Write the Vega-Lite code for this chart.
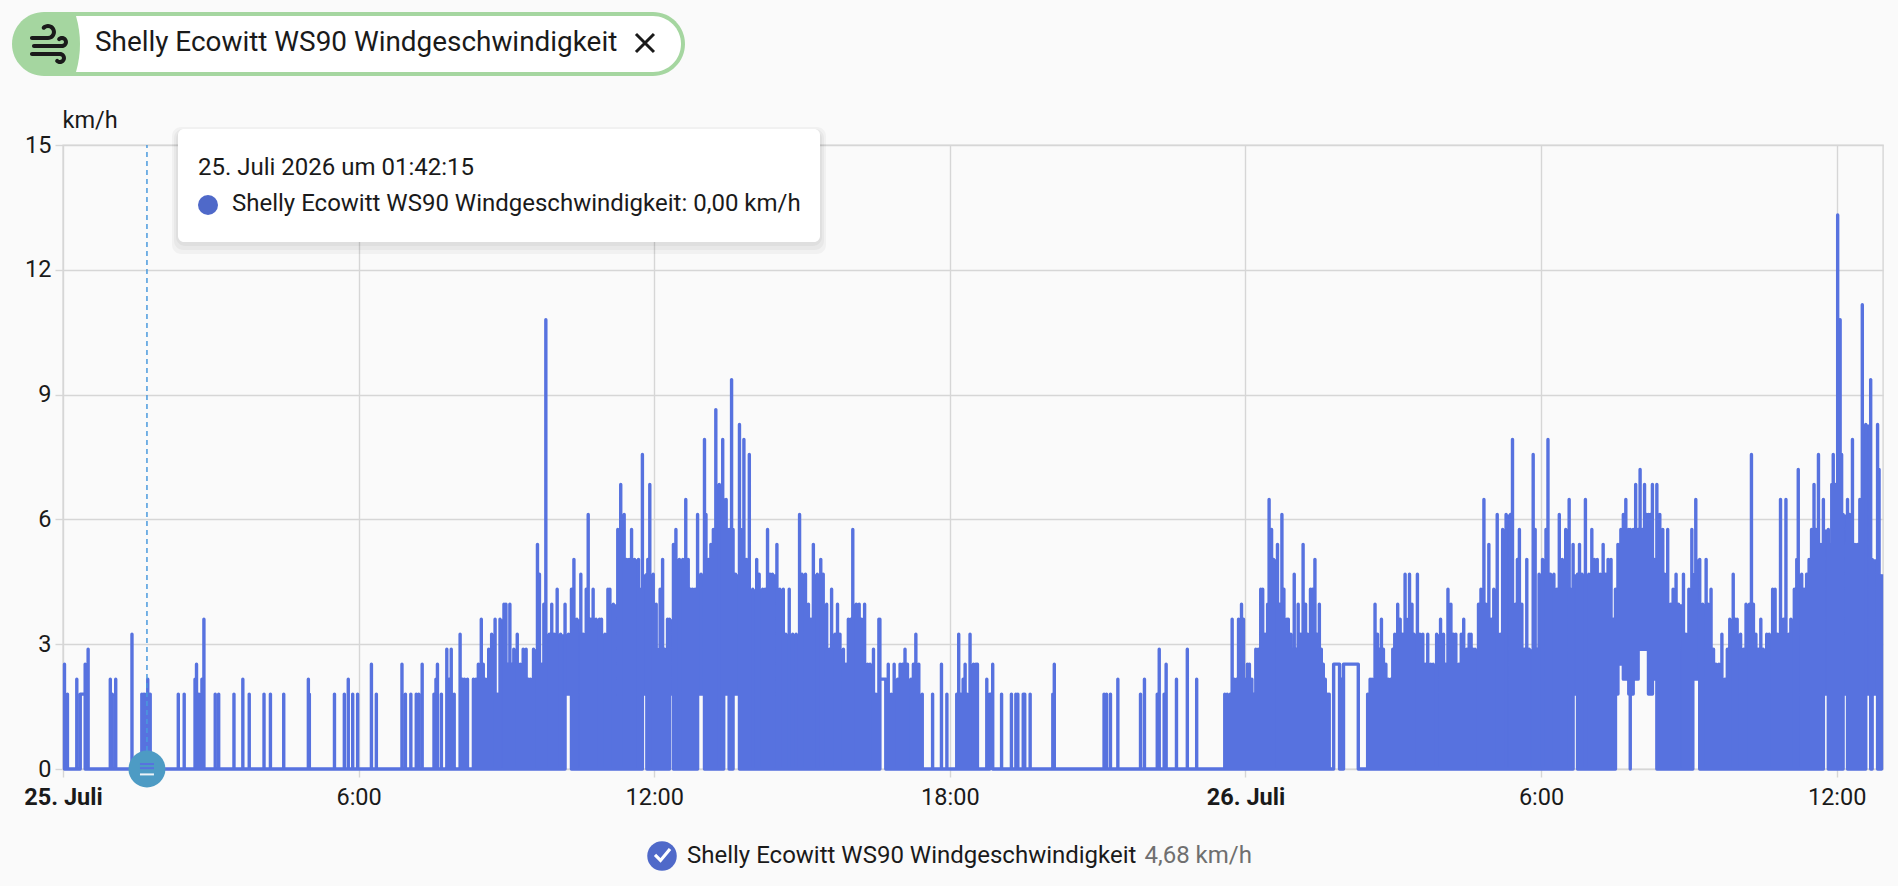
{"$schema":"https://vega.github.io/schema/vega-lite/v6.json","width":1820,"height":624,"autosize":{"type":"none"},"padding":{"left":63,"top":145,"right":15,"bottom":117},"background":"#fafafa","view":{"stroke":"#d6d6d6","strokeWidth":1.4},"config":{"font":"Roboto","text":{"font":"Roboto"}},
"datasets":{"wind":[{"h":0.03,"lo":0,"hi":2.52},{"h":0.09,"lo":0,"hi":1.8},{"h":0.28,"lo":0,"hi":2.16},{"h":0.35,"lo":0,"hi":1.8},{"h":0.45,"lo":1.8,"hi":2.52},{"h":0.51,"lo":0,"hi":2.88},{"h":0.96,"lo":0,"hi":2.16},{"h":1.0,"lo":0,"hi":1.8},{"h":1.07,"lo":0,"hi":2.16},{"h":1.4,"lo":0,"hi":3.24},{"h":1.6,"lo":0,"hi":1.8},{"h":1.64,"lo":0,"hi":1.8},{"h":1.66,"lo":0,"hi":1.8},{"h":1.72,"lo":0,"hi":2.16},{"h":1.77,"lo":0,"hi":1.8},{"h":2.34,"lo":0,"hi":1.8},{"h":2.46,"lo":0,"hi":1.8},{"h":2.68,"lo":0,"hi":2.16},{"h":2.71,"lo":0,"hi":2.52},{"h":2.76,"lo":0,"hi":1.8},{"h":2.82,"lo":0,"hi":2.16},{"h":2.86,"lo":0,"hi":3.6},{"h":3.09,"lo":0,"hi":1.8},{"h":3.16,"lo":0,"hi":1.8},{"h":3.47,"lo":0,"hi":1.8},{"h":3.65,"lo":0,"hi":2.16},{"h":3.78,"lo":0,"hi":1.8},{"h":4.08,"lo":0,"hi":1.8},{"h":4.21,"lo":0,"hi":1.8},{"h":4.48,"lo":0,"hi":1.8},{"h":4.98,"lo":0,"hi":2.16},{"h":5.0,"lo":0,"hi":1.8},{"h":5.51,"lo":0,"hi":1.8},{"h":5.71,"lo":0,"hi":1.8},{"h":5.79,"lo":0,"hi":2.16},{"h":5.88,"lo":0,"hi":1.8},{"h":5.98,"lo":0,"hi":1.8},{"h":6.26,"lo":0,"hi":2.52},{"h":6.36,"lo":0,"hi":1.8},{"h":6.88,"lo":0,"hi":2.52},{"h":6.95,"lo":0,"hi":1.8},{"h":7.06,"lo":0,"hi":1.8},{"h":7.17,"lo":0,"hi":1.8},{"h":7.22,"lo":0,"hi":1.8},{"h":7.29,"lo":0,"hi":2.52},{"h":7.53,"lo":0,"hi":1.8},{"h":7.57,"lo":0,"hi":2.16},{"h":7.6,"lo":0,"hi":2.52},{"h":7.68,"lo":0,"hi":1.8},{"h":7.79,"lo":0,"hi":2.88},{"h":7.84,"lo":0,"hi":2.16},{"h":7.88,"lo":0,"hi":2.88},{"h":7.94,"lo":0,"hi":1.8},{"h":8.06,"lo":0,"hi":3.24},{"h":8.11,"lo":0,"hi":2.16},{"h":8.15,"lo":0,"hi":2.16},{"h":8.21,"lo":0,"hi":2.16},{"h":8.33,"lo":0,"hi":2.16},{"h":8.38,"lo":0,"hi":2.16},{"h":8.43,"lo":0,"hi":2.52},{"h":8.49,"lo":0,"hi":3.6},{"h":8.53,"lo":0,"hi":2.52},{"h":8.58,"lo":0,"hi":2.16},{"h":8.64,"lo":0,"hi":2.88},{"h":8.7,"lo":0,"hi":3.24},{"h":8.77,"lo":0,"hi":3.6},{"h":8.82,"lo":0,"hi":1.8},{"h":8.87,"lo":0,"hi":3.6},{"h":8.95,"lo":0,"hi":3.96},{"h":8.99,"lo":0,"hi":3.96},{"h":9.03,"lo":0,"hi":2.52},{"h":9.07,"lo":0,"hi":3.96},{"h":9.11,"lo":0,"hi":2.52},{"h":9.15,"lo":0,"hi":2.88},{"h":9.22,"lo":0,"hi":3.24},{"h":9.28,"lo":0,"hi":2.52},{"h":9.34,"lo":0,"hi":2.88},{"h":9.4,"lo":0,"hi":2.88},{"h":9.45,"lo":0,"hi":2.16},{"h":9.49,"lo":0,"hi":2.16},{"h":9.55,"lo":0,"hi":2.88},{"h":9.63,"lo":0,"hi":5.4},{"h":9.67,"lo":0,"hi":4.68},{"h":9.71,"lo":0,"hi":2.52},{"h":9.76,"lo":0,"hi":3.96},{"h":9.8,"lo":0,"hi":10.8},{"h":9.87,"lo":0,"hi":3.24},{"h":9.92,"lo":0,"hi":3.96},{"h":9.97,"lo":0,"hi":3.24},{"h":10.03,"lo":0,"hi":4.32},{"h":10.1,"lo":0,"hi":3.24},{"h":10.19,"lo":0,"hi":3.96},{"h":10.26,"lo":1.8,"hi":3.24},{"h":10.32,"lo":1.8,"hi":4.32},{"h":10.37,"lo":0,"hi":5.04},{"h":10.43,"lo":0,"hi":3.6},{"h":10.51,"lo":0,"hi":4.68},{"h":10.56,"lo":0,"hi":3.24},{"h":10.62,"lo":0,"hi":4.32},{"h":10.66,"lo":0,"hi":6.12},{"h":10.71,"lo":0,"hi":3.6},{"h":10.76,"lo":0,"hi":4.32},{"h":10.82,"lo":0,"hi":3.6},{"h":10.89,"lo":0,"hi":3.6},{"h":10.93,"lo":0,"hi":3.6},{"h":11.0,"lo":0,"hi":3.24},{"h":11.06,"lo":0,"hi":4.32},{"h":11.1,"lo":0,"hi":4.32},{"h":11.17,"lo":0,"hi":3.96},{"h":11.26,"lo":0,"hi":5.76},{"h":11.32,"lo":0,"hi":6.84},{"h":11.39,"lo":0,"hi":6.12},{"h":11.44,"lo":0,"hi":5.04},{"h":11.49,"lo":0,"hi":5.04},{"h":11.54,"lo":0,"hi":5.76},{"h":11.6,"lo":0,"hi":5.04},{"h":11.68,"lo":0,"hi":5.04},{"h":11.73,"lo":0,"hi":4.32},{"h":11.76,"lo":0,"hi":7.56},{"h":11.85,"lo":1.8,"hi":4.68},{"h":11.87,"lo":0,"hi":5.04},{"h":11.91,"lo":0,"hi":6.84},{"h":11.98,"lo":0,"hi":4.68},{"h":12.04,"lo":0,"hi":3.96},{"h":12.06,"lo":0,"hi":2.88},{"h":12.12,"lo":0,"hi":4.32},{"h":12.17,"lo":0,"hi":5.04},{"h":12.21,"lo":0,"hi":2.88},{"h":12.27,"lo":0,"hi":3.6},{"h":12.31,"lo":0,"hi":3.6},{"h":12.39,"lo":1.8,"hi":5.4},{"h":12.44,"lo":0,"hi":5.76},{"h":12.51,"lo":0,"hi":5.04},{"h":12.58,"lo":0,"hi":5.04},{"h":12.64,"lo":0,"hi":6.48},{"h":12.69,"lo":0,"hi":5.04},{"h":12.74,"lo":0,"hi":4.32},{"h":12.78,"lo":0,"hi":4.32},{"h":12.83,"lo":0,"hi":4.32},{"h":12.88,"lo":0,"hi":6.12},{"h":12.95,"lo":1.8,"hi":4.68},{"h":13.02,"lo":1.8,"hi":7.92},{"h":13.05,"lo":0,"hi":6.12},{"h":13.1,"lo":0,"hi":5.04},{"h":13.15,"lo":0,"hi":5.4},{"h":13.2,"lo":0,"hi":5.76},{"h":13.25,"lo":0,"hi":8.64},{"h":13.32,"lo":0,"hi":6.84},{"h":13.39,"lo":0,"hi":7.92},{"h":13.41,"lo":0,"hi":6.48},{"h":13.46,"lo":1.8,"hi":6.48},{"h":13.52,"lo":1.8,"hi":5.76},{"h":13.57,"lo":0,"hi":9.36},{"h":13.6,"lo":0,"hi":5.76},{"h":13.65,"lo":1.8,"hi":4.68},{"h":13.73,"lo":1.8,"hi":8.28},{"h":13.76,"lo":0,"hi":5.76},{"h":13.82,"lo":0,"hi":7.92},{"h":13.87,"lo":0,"hi":5.04},{"h":13.93,"lo":0,"hi":7.56},{"h":14.0,"lo":0,"hi":4.32},{"h":14.08,"lo":0,"hi":5.04},{"h":14.13,"lo":0,"hi":4.68},{"h":14.2,"lo":0,"hi":4.32},{"h":14.25,"lo":0,"hi":4.32},{"h":14.3,"lo":0,"hi":5.76},{"h":14.35,"lo":0,"hi":4.68},{"h":14.4,"lo":0,"hi":4.68},{"h":14.49,"lo":0,"hi":5.4},{"h":14.55,"lo":0,"hi":4.32},{"h":14.62,"lo":0,"hi":4.32},{"h":14.67,"lo":0,"hi":3.24},{"h":14.74,"lo":0,"hi":4.32},{"h":14.81,"lo":0,"hi":3.24},{"h":14.88,"lo":0,"hi":3.24},{"h":14.95,"lo":0,"hi":6.12},{"h":15.0,"lo":0,"hi":4.68},{"h":15.07,"lo":0,"hi":4.68},{"h":15.13,"lo":0,"hi":3.96},{"h":15.18,"lo":0,"hi":3.6},{"h":15.23,"lo":0,"hi":5.4},{"h":15.31,"lo":0,"hi":4.68},{"h":15.38,"lo":0,"hi":5.04},{"h":15.43,"lo":0,"hi":4.68},{"h":15.5,"lo":0,"hi":3.96},{"h":15.56,"lo":0,"hi":2.88},{"h":15.6,"lo":0,"hi":4.32},{"h":15.67,"lo":0,"hi":3.24},{"h":15.72,"lo":0,"hi":3.96},{"h":15.77,"lo":0,"hi":3.24},{"h":15.84,"lo":0,"hi":2.88},{"h":15.89,"lo":0,"hi":2.52},{"h":15.94,"lo":0,"hi":3.6},{"h":15.99,"lo":0,"hi":3.6},{"h":16.03,"lo":0,"hi":5.76},{"h":16.1,"lo":0,"hi":3.96},{"h":16.16,"lo":0,"hi":3.96},{"h":16.21,"lo":0,"hi":3.6},{"h":16.27,"lo":0,"hi":3.96},{"h":16.33,"lo":0,"hi":2.52},{"h":16.38,"lo":0,"hi":2.52},{"h":16.45,"lo":0,"hi":2.88},{"h":16.5,"lo":0,"hi":1.8},{"h":16.56,"lo":0,"hi":3.6},{"h":16.58,"lo":0,"hi":3.6},{"h":16.7,"lo":2.16,"hi":2.16},{"h":16.75,"lo":0,"hi":2.52},{"h":16.81,"lo":0,"hi":1.8},{"h":16.87,"lo":0,"hi":2.52},{"h":16.94,"lo":0,"hi":2.16},{"h":16.99,"lo":0,"hi":2.52},{"h":17.04,"lo":0,"hi":2.52},{"h":17.09,"lo":0,"hi":2.88},{"h":17.14,"lo":0,"hi":2.52},{"h":17.21,"lo":0,"hi":2.16},{"h":17.26,"lo":0,"hi":2.52},{"h":17.31,"lo":0,"hi":3.24},{"h":17.37,"lo":0,"hi":2.52},{"h":17.44,"lo":0,"hi":1.8},{"h":17.65,"lo":0,"hi":1.8},{"h":17.83,"lo":0,"hi":2.52},{"h":17.94,"lo":0,"hi":1.8},{"h":18.14,"lo":0,"hi":1.8},{"h":18.18,"lo":0,"hi":3.24},{"h":18.22,"lo":0,"hi":1.8},{"h":18.25,"lo":0,"hi":1.8},{"h":18.27,"lo":0,"hi":2.16},{"h":18.31,"lo":0,"hi":2.52},{"h":18.35,"lo":0,"hi":1.8},{"h":18.41,"lo":0,"hi":3.24},{"h":18.48,"lo":0,"hi":2.52},{"h":18.53,"lo":0,"hi":2.52},{"h":18.56,"lo":0,"hi":2.52},{"h":18.75,"lo":0,"hi":2.16},{"h":18.81,"lo":0,"hi":1.8},{"h":18.87,"lo":1.8,"hi":2.52},{"h":19.05,"lo":0,"hi":1.8},{"h":19.25,"lo":0,"hi":1.8},{"h":19.34,"lo":0,"hi":1.8},{"h":19.38,"lo":0,"hi":1.8},{"h":19.49,"lo":0,"hi":1.8},{"h":19.52,"lo":0,"hi":1.8},{"h":19.63,"lo":0,"hi":1.8},{"h":20.09,"lo":0,"hi":1.8},{"h":20.12,"lo":0,"hi":2.52},{"h":21.13,"lo":0,"hi":1.8},{"h":21.18,"lo":0,"hi":1.8},{"h":21.26,"lo":0,"hi":1.8},{"h":21.41,"lo":0,"hi":2.16},{"h":21.87,"lo":0,"hi":1.8},{"h":21.95,"lo":0,"hi":2.16},{"h":22.21,"lo":0,"hi":1.8},{"h":22.25,"lo":0,"hi":2.88},{"h":22.35,"lo":0,"hi":1.8},{"h":22.39,"lo":0,"hi":2.52},{"h":22.6,"lo":0,"hi":2.16},{"h":22.82,"lo":0,"hi":2.88},{"h":23.01,"lo":0,"hi":2.16},{"h":23.58,"lo":0,"hi":1.8},{"h":23.63,"lo":0,"hi":1.8},{"h":23.69,"lo":0,"hi":1.8},{"h":23.73,"lo":0,"hi":3.6},{"h":23.77,"lo":0,"hi":2.16},{"h":23.82,"lo":0,"hi":2.16},{"h":23.86,"lo":0,"hi":3.6},{"h":23.92,"lo":0,"hi":3.96},{"h":23.96,"lo":0,"hi":3.6},{"h":23.99,"lo":0,"hi":2.16},{"h":24.04,"lo":0,"hi":2.52},{"h":24.08,"lo":0,"hi":2.52},{"h":24.13,"lo":0,"hi":2.16},{"h":24.17,"lo":0,"hi":1.8},{"h":24.21,"lo":0,"hi":2.88},{"h":24.26,"lo":0,"hi":2.88},{"h":24.31,"lo":0,"hi":4.32},{"h":24.35,"lo":0,"hi":4.32},{"h":24.4,"lo":0,"hi":3.24},{"h":24.45,"lo":0,"hi":3.96},{"h":24.48,"lo":0,"hi":6.48},{"h":24.53,"lo":0,"hi":5.76},{"h":24.57,"lo":0,"hi":5.04},{"h":24.65,"lo":0,"hi":5.4},{"h":24.69,"lo":0,"hi":3.96},{"h":24.74,"lo":0,"hi":6.12},{"h":24.78,"lo":0,"hi":4.32},{"h":24.84,"lo":0,"hi":3.6},{"h":24.87,"lo":0,"hi":3.6},{"h":24.92,"lo":0,"hi":3.24},{"h":24.96,"lo":0,"hi":2.88},{"h":24.99,"lo":0,"hi":4.68},{"h":25.03,"lo":0,"hi":2.88},{"h":25.07,"lo":0,"hi":3.96},{"h":25.12,"lo":0,"hi":3.24},{"h":25.17,"lo":0,"hi":5.4},{"h":25.22,"lo":0,"hi":3.96},{"h":25.26,"lo":0,"hi":3.24},{"h":25.32,"lo":0,"hi":4.32},{"h":25.36,"lo":0,"hi":4.32},{"h":25.41,"lo":0,"hi":5.04},{"h":25.45,"lo":0,"hi":3.24},{"h":25.5,"lo":0,"hi":3.96},{"h":25.54,"lo":0,"hi":2.88},{"h":25.58,"lo":0,"hi":2.52},{"h":25.62,"lo":0,"hi":2.16},{"h":25.67,"lo":0,"hi":1.8},{"h":25.7,"lo":0,"hi":1.8},{"h":25.79,"lo":0,"hi":2.52},{"h":25.91,"lo":2.52,"hi":0},{"h":25.95,"lo":0,"hi":2.16},{"h":25.99,"lo":0,"hi":2.52},{"h":26.29,"lo":2.52,"hi":0},{"h":26.48,"lo":0,"hi":1.8},{"h":26.53,"lo":0,"hi":2.16},{"h":26.57,"lo":0,"hi":2.16},{"h":26.63,"lo":0,"hi":3.96},{"h":26.68,"lo":0,"hi":3.24},{"h":26.72,"lo":0,"hi":2.88},{"h":26.76,"lo":0,"hi":3.6},{"h":26.8,"lo":0,"hi":2.88},{"h":26.85,"lo":0,"hi":2.52},{"h":26.9,"lo":0,"hi":2.16},{"h":26.95,"lo":0,"hi":2.16},{"h":26.99,"lo":0,"hi":2.88},{"h":27.03,"lo":0,"hi":3.24},{"h":27.09,"lo":0,"hi":3.96},{"h":27.14,"lo":0,"hi":3.6},{"h":27.19,"lo":0,"hi":3.24},{"h":27.24,"lo":0,"hi":4.68},{"h":27.27,"lo":0,"hi":3.6},{"h":27.33,"lo":0,"hi":4.68},{"h":27.38,"lo":0,"hi":3.96},{"h":27.42,"lo":0,"hi":3.24},{"h":27.49,"lo":0,"hi":4.68},{"h":27.54,"lo":0,"hi":3.24},{"h":27.6,"lo":0,"hi":3.24},{"h":27.65,"lo":0,"hi":2.52},{"h":27.7,"lo":0,"hi":3.24},{"h":27.76,"lo":0,"hi":2.52},{"h":27.81,"lo":0,"hi":2.52},{"h":27.88,"lo":0,"hi":3.24},{"h":27.96,"lo":0,"hi":3.6},{"h":28.02,"lo":0,"hi":3.24},{"h":28.06,"lo":0,"hi":2.52},{"h":28.11,"lo":0,"hi":4.32},{"h":28.17,"lo":0,"hi":3.96},{"h":28.22,"lo":0,"hi":3.24},{"h":28.27,"lo":0,"hi":3.24},{"h":28.33,"lo":0,"hi":2.52},{"h":28.38,"lo":0,"hi":3.24},{"h":28.43,"lo":0,"hi":3.6},{"h":28.49,"lo":0,"hi":2.88},{"h":28.54,"lo":0,"hi":3.24},{"h":28.58,"lo":0,"hi":3.24},{"h":28.62,"lo":0,"hi":2.88},{"h":28.66,"lo":0,"hi":2.88},{"h":28.73,"lo":0,"hi":3.96},{"h":28.78,"lo":0,"hi":4.32},{"h":28.84,"lo":0,"hi":6.48},{"h":28.88,"lo":0,"hi":3.96},{"h":28.94,"lo":0,"hi":5.4},{"h":28.99,"lo":0,"hi":3.6},{"h":29.04,"lo":0,"hi":4.32},{"h":29.11,"lo":0,"hi":6.12},{"h":29.17,"lo":0,"hi":3.24},{"h":29.22,"lo":0,"hi":5.76},{"h":29.29,"lo":0,"hi":6.12},{"h":29.38,"lo":0,"hi":6.12},{"h":29.42,"lo":0,"hi":7.92},{"h":29.48,"lo":0,"hi":3.96},{"h":29.52,"lo":0,"hi":5.04},{"h":29.56,"lo":0,"hi":5.76},{"h":29.61,"lo":0,"hi":3.96},{"h":29.66,"lo":0,"hi":2.88},{"h":29.71,"lo":0,"hi":5.04},{"h":29.76,"lo":0,"hi":2.88},{"h":29.84,"lo":0,"hi":7.56},{"h":29.88,"lo":0,"hi":5.76},{"h":29.92,"lo":0,"hi":2.88},{"h":29.96,"lo":0,"hi":4.68},{"h":30.03,"lo":0,"hi":5.04},{"h":30.1,"lo":0,"hi":5.76},{"h":30.14,"lo":0,"hi":7.92},{"h":30.19,"lo":0,"hi":4.68},{"h":30.26,"lo":0,"hi":4.68},{"h":30.32,"lo":0,"hi":4.32},{"h":30.37,"lo":0,"hi":6.12},{"h":30.43,"lo":0,"hi":5.04},{"h":30.5,"lo":0,"hi":5.76},{"h":30.57,"lo":0,"hi":6.48},{"h":30.62,"lo":0,"hi":4.32},{"h":30.65,"lo":0,"hi":5.4},{"h":30.74,"lo":1.8,"hi":4.68},{"h":30.78,"lo":0,"hi":5.4},{"h":30.83,"lo":0,"hi":4.68},{"h":30.9,"lo":0,"hi":6.48},{"h":30.97,"lo":0,"hi":4.68},{"h":31.03,"lo":0,"hi":5.76},{"h":31.08,"lo":0,"hi":5.04},{"h":31.14,"lo":0,"hi":5.04},{"h":31.2,"lo":0,"hi":4.68},{"h":31.26,"lo":0,"hi":5.4},{"h":31.31,"lo":0,"hi":4.68},{"h":31.36,"lo":0,"hi":5.04},{"h":31.42,"lo":0,"hi":5.04},{"h":31.47,"lo":0,"hi":3.6},{"h":31.51,"lo":0,"hi":4.32},{"h":31.56,"lo":1.8,"hi":5.4},{"h":31.62,"lo":2.52,"hi":5.76},{"h":31.67,"lo":2.52,"hi":6.12},{"h":31.72,"lo":2.16,"hi":6.48},{"h":31.78,"lo":2.16,"hi":5.76},{"h":31.81,"lo":1.8,"hi":5.76},{"h":31.81,"lo":0,"hi":1.8},{"h":31.87,"lo":1.8,"hi":5.76},{"h":31.92,"lo":2.16,"hi":6.84},{"h":31.97,"lo":2.16,"hi":5.76},{"h":32.01,"lo":2.88,"hi":7.2},{"h":32.06,"lo":2.88,"hi":5.76},{"h":32.1,"lo":2.88,"hi":6.84},{"h":32.14,"lo":2.88,"hi":6.12},{"h":32.18,"lo":2.88,"hi":6.12},{"h":32.22,"lo":1.8,"hi":6.12},{"h":32.26,"lo":1.8,"hi":6.84},{"h":32.3,"lo":2.16,"hi":5.04},{"h":32.35,"lo":2.16,"hi":6.84},{"h":32.41,"lo":0,"hi":6.12},{"h":32.47,"lo":0,"hi":5.76},{"h":32.51,"lo":0,"hi":4.68},{"h":32.57,"lo":0,"hi":5.76},{"h":32.63,"lo":0,"hi":3.96},{"h":32.68,"lo":0,"hi":4.32},{"h":32.74,"lo":0,"hi":4.68},{"h":32.79,"lo":0,"hi":3.96},{"h":32.89,"lo":0,"hi":4.68},{"h":32.94,"lo":0,"hi":3.24},{"h":33.0,"lo":0,"hi":4.32},{"h":33.06,"lo":0,"hi":5.76},{"h":33.08,"lo":0,"hi":4.68},{"h":33.14,"lo":2.16,"hi":6.48},{"h":33.22,"lo":2.16,"hi":5.04},{"h":33.28,"lo":0,"hi":3.96},{"h":33.35,"lo":0,"hi":5.04},{"h":33.39,"lo":0,"hi":3.96},{"h":33.45,"lo":0,"hi":4.32},{"h":33.5,"lo":0,"hi":2.88},{"h":33.55,"lo":0,"hi":2.52},{"h":33.61,"lo":0,"hi":2.52},{"h":33.67,"lo":0,"hi":3.24},{"h":33.73,"lo":0,"hi":2.16},{"h":33.78,"lo":0,"hi":2.88},{"h":33.83,"lo":0,"hi":3.6},{"h":33.9,"lo":0,"hi":4.68},{"h":33.94,"lo":0,"hi":3.6},{"h":33.98,"lo":0,"hi":3.6},{"h":34.05,"lo":0,"hi":3.24},{"h":34.11,"lo":0,"hi":2.88},{"h":34.16,"lo":0,"hi":3.96},{"h":34.23,"lo":0,"hi":3.96},{"h":34.27,"lo":0,"hi":7.56},{"h":34.31,"lo":0,"hi":3.96},{"h":34.36,"lo":0,"hi":3.24},{"h":34.41,"lo":0,"hi":2.88},{"h":34.46,"lo":0,"hi":3.6},{"h":34.51,"lo":0,"hi":2.88},{"h":34.58,"lo":0,"hi":3.24},{"h":34.63,"lo":0,"hi":3.24},{"h":34.7,"lo":0,"hi":4.32},{"h":34.75,"lo":0,"hi":4.32},{"h":34.8,"lo":0,"hi":3.24},{"h":34.86,"lo":0,"hi":6.48},{"h":34.92,"lo":0,"hi":3.6},{"h":34.97,"lo":0,"hi":6.48},{"h":35.03,"lo":0,"hi":3.24},{"h":35.07,"lo":0,"hi":3.6},{"h":35.14,"lo":0,"hi":4.32},{"h":35.19,"lo":0,"hi":5.04},{"h":35.22,"lo":0,"hi":7.2},{"h":35.29,"lo":0,"hi":4.68},{"h":35.34,"lo":0,"hi":4.32},{"h":35.39,"lo":0,"hi":4.68},{"h":35.44,"lo":0,"hi":5.04},{"h":35.49,"lo":0,"hi":5.76},{"h":35.54,"lo":0,"hi":6.84},{"h":35.58,"lo":0,"hi":5.76},{"h":35.63,"lo":0,"hi":7.56},{"h":35.68,"lo":0,"hi":5.4},{"h":35.73,"lo":0,"hi":6.48},{"h":35.83,"lo":1.8,"hi":5.76},{"h":35.85,"lo":0,"hi":5.4},{"h":35.9,"lo":0,"hi":6.84},{"h":35.93,"lo":0,"hi":7.56},{"h":35.97,"lo":0,"hi":6.84},{"h":36.02,"lo":0,"hi":13.32},{"h":36.07,"lo":0,"hi":10.8},{"h":36.1,"lo":0,"hi":7.56},{"h":36.13,"lo":0,"hi":6.12},{"h":36.22,"lo":1.8,"hi":6.48},{"h":36.26,"lo":0,"hi":6.12},{"h":36.32,"lo":0,"hi":7.92},{"h":36.37,"lo":0,"hi":5.4},{"h":36.42,"lo":0,"hi":5.4},{"h":36.47,"lo":0,"hi":6.48},{"h":36.52,"lo":0,"hi":11.16},{"h":36.59,"lo":0,"hi":8.28},{"h":36.69,"lo":1.8,"hi":9.36},{"h":36.72,"lo":0,"hi":5.04},{"h":36.83,"lo":1.8,"hi":8.28},{"h":36.86,"lo":0,"hi":7.2},{"h":36.91,"lo":0,"hi":4.68}]},
"encoding":{"x":{"field":"h","type":"quantitative","title":null,"scale":{"domain":[0,36.94],"nice":false,"zero":false},"axis":{"values":[0,6,12,18,24,30,36],"labelExpr":"datum.value==0?'25. Juli':datum.value==24?'26. Juli':(datum.value%24)+':00'","labelFontWeight":{"condition":{"test":"datum.value%24==0","value":700},"value":400},"labelFont":"Roboto","labelFontSize":23.5,"labelColor":"#1a1a1a","labelPadding":8,"labelOverlap":false,"labelFlush":false,"labelBound":false,"grid":true,"gridColor":"#d6d6d6","gridWidth":1.4,"tickColor":"#d6d6d6","tickSize":8,"tickWidth":1.4,"domain":false}},"y":{"field":"value","type":"quantitative","scale":{"domain":[0,15],"nice":false},"axis":{"values":[0,3,6,9,12,15],"title":"km/h","titleAngle":0,"titleAlign":"left","titleBaseline":"middle","titleX":-1,"titleY":-25,"titleFont":"Roboto","titleFontWeight":400,"titleFontSize":23.5,"titleColor":"#1a1a1a","labelFont":"Roboto","labelFontSize":23.5,"labelColor":"#1a1a1a","labelPadding":4,"grid":true,"gridColor":"#d6d6d6","gridWidth":1.4,"tickColor":"#d6d6d6","tickSize":8,"tickWidth":1.4,"domain":false}}},
"layer":[
{"data":{"name":"wind"},"transform":[{"window":[{"op":"lead","field":"h","as":"h2"},{"op":"lead","field":"lo","as":"value"},{"op":"min","field":"hi","as":"value2"}],"sort":[{"field":"h","order":"ascending"}],"frame":[0,1],"ignorePeers":true},{"filter":"datum.h2>0&&datum.h2-datum.h<=0.125&&((datum.h>=8.3&&datum.h<17.4)||(datum.h>=18.14&&datum.h<18.6)||(datum.h>=23.58&&datum.h<25.7)||datum.h>=26.48)"}],"mark":{"type":"rect","color":"#5772df"},"encoding":{"x2":{"field":"h2"},"y2":{"field":"value2"}}},
{"data":{"name":"wind"},"transform":[{"fold":["lo","hi"]}],"mark":{"type":"line","interpolate":"step-before","color":"#5772df","strokeWidth":3.4,"strokeJoin":"round"}},
{"data":{"values":[{"h":1.704,"value":0,"value2":15}]},"mark":{"type":"rule","color":"#4a9ade","strokeWidth":1.5,"strokeDash":[5,4]},"encoding":{"y2":{"field":"value2"}}},
{"data":{"values":[{"h":1.704,"value":0}]},"mark":{"type":"point","shape":"circle","filled":true,"size":1369,"color":"#4d9bc4","opacity":1,"strokeWidth":0}},
{"data":{"values":[{"h":1.704,"value":0.12},{"h":1.704,"value":0.02}]},"mark":{"type":"point","shape":"M-7,-1H7V1H-7Z","filled":true,"size":4,"color":"#5772df","opacity":1,"strokeWidth":0}},
{"data":{"values":[{"h":1.704,"value":-0.13}]},"mark":{"type":"point","shape":"M-7,-1H7V1H-7Z","filled":true,"size":4,"color":"#eef4f8","opacity":1,"strokeWidth":0}},
{"data":{"values":[{"h":-1.035,"h2":12.624,"value":18.197,"value2":16.659}]},"mark":{"type":"rect","color":"#a5d6a0","cornerRadius":32},"encoding":{"x2":{"field":"h2"},"y2":{"field":"value2"}}},
{"data":{"values":[{"h":0.264,"h2":12.543,"value":18.101,"value2":16.755}]},"mark":{"type":"rect","color":"#ffffff","cornerRadiusTopRight":28,"cornerRadiusBottomRight":28},"encoding":{"x2":{"field":"h2"},"y2":{"field":"value2"}}},
{"data":{"values":[{"h":0.264,"value":17.428}]},"mark":{"type":"point","shape":"M0,-28Q8,0 0,28Z","filled":true,"size":4,"color":"#a5d6a0","opacity":1,"strokeWidth":0}},
{"data":{"values":[{"h":-0.792,"value":18.005}]},"mark":{"type":"point","shape":"M4,10A1,1 0 0,1 3,9A1,1 0 0,1 4,8H12A2,2 0 0,0 14,6A2,2 0 0,0 12,4C11.45,4 10.95,4.22 10.59,4.59C10.2,5 9.56,5 9.17,4.59C8.78,4.2 8.78,3.56 9.17,3.17C9.9,2.45 10.9,2 12,2A4,4 0 0,1 16,6A4,4 0 0,1 12,10H4M19,12A1,1 0 0,0 20,11A1,1 0 0,0 19,10C18.72,10 18.47,10.11 18.29,10.29C17.9,10.68 17.27,10.68 16.88,10.29C16.5,9.9 16.5,9.27 16.88,8.88C17.42,8.34 18.17,8 19,8A3,3 0 0,1 22,11A3,3 0 0,1 19,14H5A1,1 0 0,1 4,13A1,1 0 0,1 5,12H19M18,18H4A1,1 0 0,1 3,17A1,1 0 0,1 4,16H18A3,3 0 0,1 21,19A3,3 0 0,1 18,22C17.17,22 16.42,21.66 15.88,21.12C15.5,20.73 15.5,20.1 15.88,19.71C16.27,19.32 16.9,19.32 17.29,19.71C17.47,19.89 17.72,20 18,20A1,1 0 0,0 19,19A1,1 0 0,0 18,18Z","filled":true,"size":16,"color":"#1a1a1a","opacity":1,"strokeWidth":0}},
{"data":{"values":[{"h":11.812,"value":17.452}]},"mark":{"type":"point","shape":"M-9,-9L9,9M9,-9L-9,9","filled":false,"size":4,"color":"#1a1a1a","opacity":1,"strokeWidth":3}},
{"data":{"values":[{"h":0.649,"value":17.44,"label":"Shelly Ecowitt WS90 Windgeschwindigkeit"}]},"mark":{"type":"text","align":"left","baseline":"middle","font":"Roboto","fontSize":27.9,"color":"#1a1a1a"},"encoding":{"text":{"field":"label"}}},
{"data":{"values":[{"h":2.212,"h2":15.487,"value":15.433,"value2":12.38},{"h":2.253,"h2":15.446,"value":15.385,"value2":12.476},{"h":2.293,"h2":15.405,"value":15.361,"value2":12.572}]},"mark":{"type":"rect","color":"#000000","opacity":0.035,"cornerRadius":9},"encoding":{"x2":{"field":"h2"},"y2":{"field":"value2"}}},
{"data":{"values":[{"h":2.334,"h2":15.365,"value":15.385,"value2":12.668}]},"mark":{"type":"rect","color":"#ffffff","cornerRadius":6},"encoding":{"x2":{"field":"h2"},"y2":{"field":"value2"}}},
{"data":{"values":[{"h":2.943,"value":13.558}]},"mark":{"type":"point","shape":"circle","filled":true,"size":400,"color":"#4f69c9","opacity":1,"strokeWidth":0}},
{"data":{"values":[{"h":2.74,"value":14.447,"label":"25. Juli 2026 um 01:42:15"},{"h":3.43,"value":13.582,"label":"Shelly Ecowitt WS90 Windgeschwindigkeit: 0,00 km/h"},{"h":12.665,"value":-2.091,"label":"Shelly Ecowitt WS90 Windgeschwindigkeit"}]},"mark":{"type":"text","align":"left","baseline":"middle","font":"Roboto","fontSize":24,"color":"#1a1a1a"},"encoding":{"text":{"field":"label"}}},
{"data":{"values":[{"h":21.95,"value":-2.091,"label":"4,68 km/h"}]},"mark":{"type":"text","align":"left","baseline":"middle","font":"Roboto","fontSize":24,"color":"#6f6f6f"},"encoding":{"text":{"field":"label"}}},
{"data":{"values":[{"h":12.158,"value":-2.091}]},"mark":{"type":"point","shape":"circle","filled":true,"size":870,"color":"#4f69c9","opacity":1,"strokeWidth":0}},
{"data":{"values":[{"h":12.158,"value":-2.091}]},"mark":{"type":"point","shape":"M-7,-1L-1.5,4.5L8,-7","filled":false,"size":4,"color":"#ffffff","opacity":1,"strokeWidth":3.2}}
]}
